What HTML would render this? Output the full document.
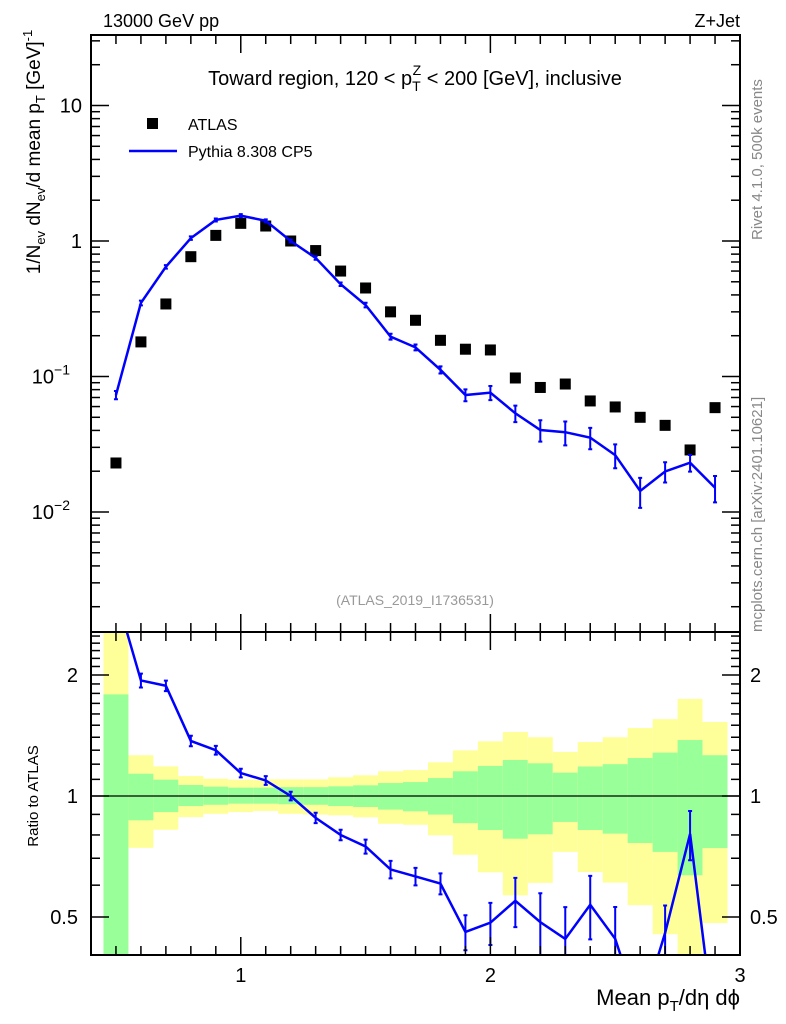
<!DOCTYPE html>
<html><head><meta charset="utf-8">
<style>
html,body{margin:0;background:#fff;width:786px;height:1024px;overflow:hidden;font-family:"Liberation Sans",sans-serif}
svg{position:absolute;left:0;top:0;overflow:hidden}
text{font-family:"Liberation Sans",sans-serif}
</style></head>
<body>
<svg id="chart" width="786" height="1024" viewBox="0 0 786 1024" xmlns="http://www.w3.org/2000/svg">
<g id="bands"></g>
<g id="marks"></g>
<g id="axes"></g>
<text x="103" y="27" font-size="18">13000 GeV pp</text>
<text x="740" y="27" font-size="18" text-anchor="end">Z+Jet</text>
<text x="415" y="85" font-size="20" text-anchor="middle">Toward region, 120 &lt; p<tspan font-size="14" dy="6">T</tspan><tspan font-size="14" dx="-8" dy="-16">Z</tspan><tspan dy="10"> &lt; 200 [GeV], inclusive</tspan></text>
<rect x="147" y="118" width="11" height="11" fill="#000"/>
<text x="188" y="130" font-size="16">ATLAS</text>
<line x1="129" y1="151" x2="177" y2="151" stroke="#0000ff" stroke-width="2.5"/>
<text x="188" y="157" font-size="16">Pythia 8.308 CP5</text>
<text x="415" y="605" font-size="14" fill="#999" text-anchor="middle">(ATLAS_2019_I1736531)</text>
<text transform="translate(762,240) rotate(-90)" font-size="15" fill="#888">Rivet 4.1.0,  500k events</text>
<text transform="translate(762,632) rotate(-90)" font-size="15" fill="#888">mcplots.cern.ch [arXiv:2401.10621]</text>
<text transform="translate(40,152) rotate(-90)" font-size="19" text-anchor="middle">1/N<tspan font-size="13" dy="5">ev</tspan><tspan dy="-5"> dN</tspan><tspan font-size="13" dy="5">ev</tspan><tspan dy="-5">/d mean p</tspan><tspan font-size="13" dy="5">T</tspan><tspan dy="-5"> [GeV]</tspan><tspan font-size="13" dy="-8">-1</tspan></text>
<text transform="translate(38,796) rotate(-90)" font-size="15" text-anchor="middle">Ratio to ATLAS</text>
<text x="740" y="1005" font-size="22" text-anchor="end">Mean p<tspan font-size="15" dy="6">T</tspan><tspan dy="-6">/dη dϕ</tspan></text>
</svg>
<script>
const xCenters=[0.5,0.6,0.7,0.8,0.9,1.0,1.1,1.2,1.3,1.4,1.5,1.6,1.7,1.8,1.9,2.0,2.1,2.2,2.3,2.4,2.5,2.6,2.7,2.8,2.9];
const atlasVals=[0.023,0.18,0.343,0.766,1.10,1.35,1.29,1.0,0.85,0.60,0.45,0.30,0.26,0.185,0.159,0.157,0.0975,0.083,0.088,0.066,0.0596,0.050,0.0436,0.0287,0.0589];
const pythiaVals=[0.073,0.349,0.645,1.05,1.43,1.54,1.41,1.0,0.75,0.48,0.337,0.197,0.164,0.112,0.073,0.076,0.0535,0.0403,0.0388,0.0354,0.0263,0.0143,0.0199,0.0231,0.0151];
const pythiaRelErr=[0.07,0.04,0.03,0.03,0.025,0.025,0.025,0.025,0.03,0.03,0.04,0.05,0.05,0.06,0.10,0.12,0.14,0.18,0.20,0.18,0.20,0.25,0.17,0.14,0.22];
const yellowHi=[3.0,1.263,1.185,1.121,1.104,1.098,1.10,1.10,1.10,1.113,1.126,1.152,1.16,1.213,1.299,1.368,1.443,1.40,1.287,1.362,1.40,1.476,1.553,1.744,1.528];
const greenHi=[1.79,1.136,1.098,1.065,1.055,1.049,1.049,1.052,1.052,1.057,1.063,1.077,1.083,1.108,1.152,1.188,1.229,1.206,1.143,1.184,1.20,1.243,1.282,1.378,1.263];
const greenLo=[0.21,0.87,0.912,0.944,0.951,0.957,0.957,0.954,0.951,0.944,0.939,0.925,0.916,0.899,0.856,0.823,0.783,0.803,0.862,0.823,0.806,0.764,0.726,0.635,0.742];
const yellowLo=[0.05,0.743,0.824,0.886,0.903,0.912,0.918,0.903,0.899,0.895,0.885,0.853,0.848,0.798,0.714,0.646,0.566,0.608,0.726,0.647,0.609,0.535,0.453,0.3,0.483];
const xTickLabels=["1","2","3"];
const binWidth=0.1;

const NS="http://www.w3.org/2000/svg";
const L=91,R=740,T=35,M=632,B=955;
const xs=v=>L+(v-0.4)/(3-0.4)*(R-L);
const ys=v=>241-135.5*Math.log10(v);
const yr=v=>796-121*Math.log2(v);
function mk(tag,attrs,parent){const e=document.createElementNS(NS,tag);for(const k in attrs)e.setAttribute(k,attrs[k]);parent.appendChild(e);return e;}
const bandsG=document.getElementById('bands'),marksG=document.getElementById('marks'),axesG=document.getElementById('axes');
const clampR=v=>Math.max(M,Math.min(B,v));

xCenters.forEach((c,i)=>{
  const x0=xs(c-binWidth/2),x1=xs(c+binWidth/2);
  const y1=mk('rect',{x:x0,y:clampR(yr(yellowHi[i])),width:x1-x0,height:clampR(yr(yellowLo[i]))-clampR(yr(yellowHi[i])),fill:'#ffff99'},bandsG);
  
  
  const g1=mk('rect',{x:x0,y:clampR(yr(greenHi[i])),width:x1-x0,height:clampR(yr(greenLo[i]))-clampR(yr(greenHi[i])),fill:'#99ff99'},bandsG);
  
  
});
const one=mk('line',{x1:L,x2:R,y1:yr(1),y2:yr(1),stroke:'#000','stroke-width':1.3},bandsG);



const defs=mk('defs',{},document.getElementById('chart'));
const c1=mk('clipPath',{id:'cm'},defs);mk('rect',{x:L,y:T,width:R-L,height:M-T},c1);
const c2=mk('clipPath',{id:'cr'},defs);mk('rect',{x:L,y:M,width:R-L,height:B-M},c2);
const mainG=mk('g',{'clip-path':'url(#cm)'},marksG);
const ratG=mk('g',{'clip-path':'url(#cr)'},marksG);

xCenters.forEach((c,i)=>{
  const s=mk('rect',{x:xs(c)-5.5,y:ys(atlasVals[i])-5.5,width:11,height:11,fill:'#000'},mainG);
  
  
});
let pts=xCenters.map((c,i)=>xs(c)+','+ys(pythiaVals[i])).join(' ');
const pl=mk('polyline',{points:pts,fill:'none',stroke:'#0000ff','stroke-width':2.5},mainG);


function errbar(g,x,ylo,yhi,name){
  const e=mk('path',{d:`M${x},${ylo}V${yhi}M${x-2},${ylo}H${x+2}M${x-2},${yhi}H${x+2}`,stroke:'#0000ff','stroke-width':2,fill:'none'},g);
  
  
}
xCenters.forEach((c,i)=>{
  const v=pythiaVals[i],e=pythiaRelErr[i];
  errbar(mainG,xs(c),ys(v*(1-e)),ys(v*(1+e)),'pythia-error-bar');
});
const ratios=xCenters.map((c,i)=>pythiaVals[i]/atlasVals[i]);
pts=xCenters.map((c,i)=>xs(c)+','+yr(ratios[i])).join(' ');
const rl=mk('polyline',{points:pts,fill:'none',stroke:'#0000ff','stroke-width':2.5},ratG);


xCenters.forEach((c,i)=>{
  const v=ratios[i],e=pythiaRelErr[i];
  errbar(ratG,xs(c),yr(v*(1-e)),yr(v*(1+e)),'ratio-error-bar');
});

[[T,M,'main-frame'],[M,B,'ratio-frame']].forEach(([a,b,n])=>{
  const f=mk('rect',{x:L,y:a,width:R-L,height:b-a,fill:'none',stroke:'#000','stroke-width':2},axesG);
  
  
});
for(let k=4;k<=30;k++){
  const v=k/10,x=xs(v),maj=(k%10===0),len=maj?18:9;
  [[T,1],[M,-1],[M,1],[B,-1]].forEach(([y,d])=>{
    const t=mk('line',{x1:x,x2:x,y1:y,y2:y+d*len,stroke:'#000','stroke-width':1.5},axesG);
    
    
  });
}
xTickLabels.forEach(s=>{
  const t=mk('text',{x:xs(+s),y:982,'font-size':20,'text-anchor':'middle'},axesG);
  t.textContent=s;
  
  
});
for(let d=-3;d<=1;d++){for(let m=1;m<=9;m++){
  const v=m*Math.pow(10,d),y=ys(v);if(y<T||y>M)continue;
  const len=m===1?18:9;
  [[L,1],[R,-1]].forEach(([x,s])=>{
    const t=mk('line',{x1:x,x2:x+s*len,y1:y,y2:y,stroke:'#000','stroke-width':1.5},axesG);
    
    
  });
}}
const yLab=[[10,'10',''],[1,'1',''],[0.1,'10','−1'],[0.01,'10','−2']];
yLab.forEach(([v,b,e])=>{
  const t=mk('text',{x:e?70:82,y:ys(v)+7,'font-size':20,'text-anchor':'end'},axesG);
  t.textContent=b;
  
  
  if(e){const s=mk('tspan',{'font-size':14,dy:-9},t);s.textContent=e;}
});
const rt=[0.4,0.5,0.6,0.7,0.8,0.9,1,1.1,1.2,1.3,1.4,1.5,1.6,1.7,1.8,1.9,2,2.1,2.2,2.3,2.4,2.5];
rt.forEach(v=>{
  const y=yr(v);if(y<M||y>B)return;
  const maj=(v===0.5||v===1||v===2),len=maj?18:9;
  [[L,1],[R,-1]].forEach(([x,s])=>{
    const t=mk('line',{x1:x,x2:x+s*len,y1:y,y2:y,stroke:'#000','stroke-width':1.5},axesG);
    
    
  });
});
[[2,'2'],[1,'1'],[0.5,'0.5']].forEach(([v,s])=>{
  const t=mk('text',{x:78,y:yr(v)+7,'font-size':20,'text-anchor':'end'},axesG);
  t.textContent=s;
  
  
  const t2=mk('text',{x:750,y:yr(v)+7,'font-size':20},axesG);
  t2.textContent=s;
  
  
});
</script>
</body></html>
